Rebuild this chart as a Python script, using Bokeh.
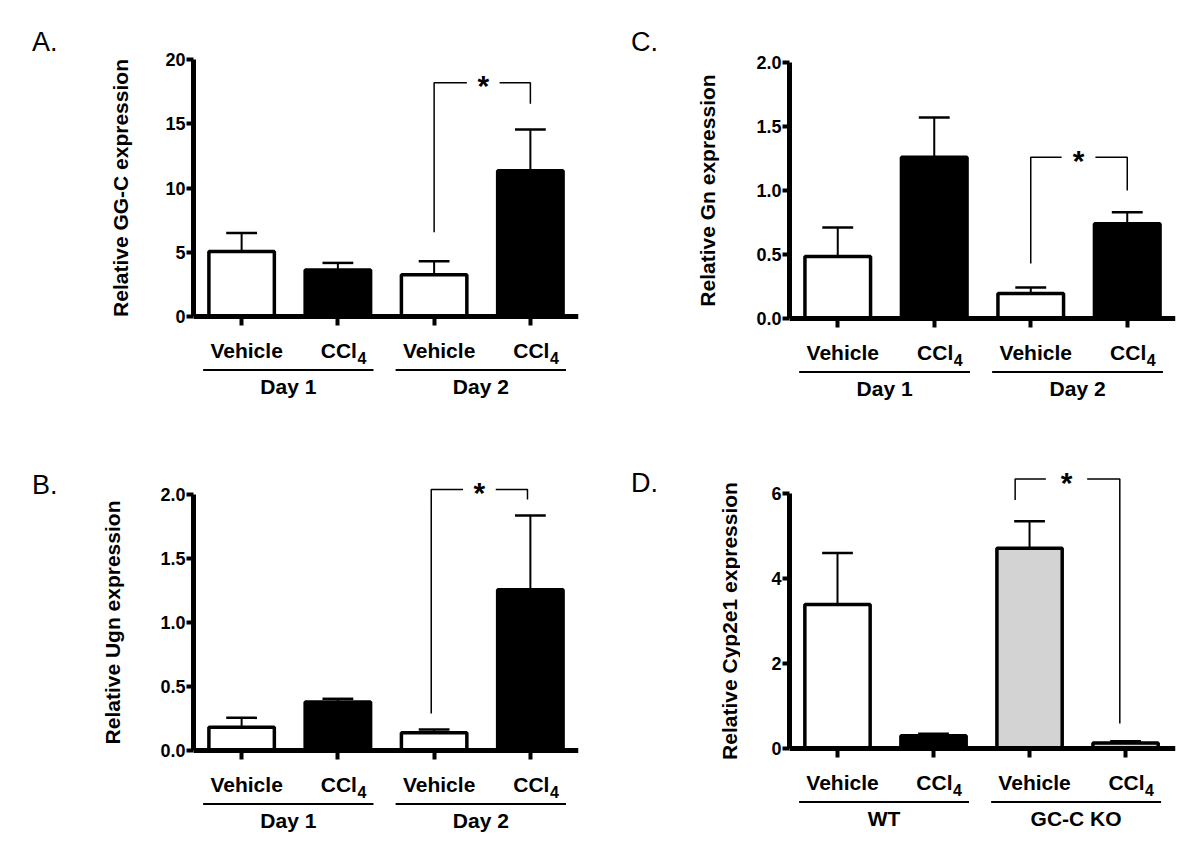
import math
from bokeh.plotting import figure
from bokeh.layouts import column, row
from bokeh.models import LinearAxis, FixedTicker, Range1d, NumeralTickFormatter
from bokeh.embed import file_html
from bokeh.resources import INLINE
from bokeh.core.properties import value

FONT = "Liberation Sans"

# ---------------- data ----------------
positions = [1, 2, 3, 4]
treat_main = ["Vehicle", "CCl", "Vehicle", "CCl"]
treat_sub = ["", "4", "", "4"]

gcc_mean = [5.05, 3.62, 3.24, 11.35]
gcc_upper = [6.50, 4.17, 4.30, 14.55]

gn_mean = [0.485, 1.26, 0.195, 0.74]
gn_upper = [0.71, 1.57, 0.242, 0.83]

ugn_mean = [0.182, 0.378, 0.138, 1.255]
ugn_upper = [0.255, 0.404, 0.164, 1.836]

cyp_mean = [3.39, 0.30, 4.71, 0.13]
cyp_upper = [4.60, 0.35, 5.35, 0.17]

day_groups = ["Day 1", "Day 2"]
genotype_groups = ["WT", "GC-C KO"]

fills_day = ["white", "black", "white", "black"]
fills_geno = ["white", "black", "#d3d3d3", "#d3d3d3"]

ticks_gcc = [0, 5, 10, 15, 20]
ticks_frac = [0, 0.5, 1.0, 1.5, 2.0]
ticks_cyp = [0, 2, 4, 6]

# significance brackets: legs x, [left foot, top, right foot], gap around star
sig_gcc = dict(x=[3.0, 4.0], y=[6.55, 18.2, 16.55], gap=[3.34, 3.68])
sig_gn = dict(x=[3.0, 4.0], y=[0.43, 1.26, 1.0], gap=[3.32, 3.67])
sig_ugn = dict(x=[2.97, 3.97], y=[0.29, 2.04, 1.96], gap=[3.30, 3.64])
sig_cyp = dict(x=[2.85, 3.94], y=[5.85, 6.34, 0.59], gap=[3.17, 3.60])

TOP = 20  # common top border of every figure in a row (frames are aligned by the layout)


def blank(fig):
    fig.grid.visible = False
    fig.outline_line_color = None
    fig.background_fill_color = "white"
    fig.border_fill_color = "white"


def side_panel(letter, ylabel, lay):
    """Narrow figure holding the panel letter and the rotated y-axis title."""
    W, H = lay["side_size"]
    s = figure(width=W, height=H, x_range=Range1d(0, W), y_range=Range1d(0, H - TOP),
               min_border_left=0, min_border_right=0, min_border_top=TOP,
               min_border_bottom=0, output_backend="svg", toolbar_location=None,
               x_axis_location=None, y_axis_location=None)
    blank(s)
    lx, lc = lay["letter"]
    s.text(x=[lx], y=[H - lc], text=[letter], text_align="left", text_baseline="middle",
           text_font=value(FONT), text_font_size="27px", text_color="black")
    cx, cy = lay["ylab"]
    s.text(x=[cx], y=[H - cy], text=[ylabel], angle=math.pi / 2, text_align="center",
           text_baseline="middle", text_font=value(FONT), text_font_style="bold",
           text_font_size="21px", text_color="black")
    return s


def make_panel(mean, upper, fills, groups, yticks, yfmt, sig, lay):
    W, H = lay["size"]
    fl, fr = lay["frame_x"]
    ft, fb = TOP, H
    ytop, ytop_px, zero_px = lay["yscale"]
    x_end = lay["x_end"]
    ppu = (zero_px - ytop_px) / ytop
    y_end = (zero_px - ft) / ppu
    y_start = -(fb - zero_px) / ppu
    ppx = (fr - fl) / (x_end - 0.5)

    def dy(px):
        return px / ppu

    def dx(px):
        return px / ppx

    p = figure(width=W, height=H, x_range=Range1d(0.5, x_end), y_range=Range1d(y_start, y_end),
               min_border_left=fl, min_border_right=W - fr, min_border_top=ft,
               min_border_bottom=H - fb, output_backend="svg", toolbar_location=None,
               x_axis_location=None, y_axis_location=None)
    blank(p)

    yax = LinearAxis(bounds=(0, ytop), ticker=FixedTicker(ticks=yticks),
                     formatter=NumeralTickFormatter(format=yfmt))
    yax.axis_line_width = 5
    yax.axis_line_color = "black"
    yax.major_tick_line_width = 4
    yax.major_tick_line_color = "black"
    yax.major_tick_out = 7
    yax.major_tick_in = 0
    yax.minor_tick_line_color = None
    yax.major_label_text_font = FONT
    yax.major_label_text_font_style = "bold"
    yax.major_label_text_font_size = "18px"
    yax.major_label_text_color = "black"
    yax.major_label_standoff = 1
    p.add_layout(yax, "left")

    xax = LinearAxis(fixed_location=0, ticker=FixedTicker(ticks=positions),
                     major_label_overrides={1: "", 2: "", 3: "", 4: ""})
    xax.axis_line_width = 5
    xax.axis_line_color = "black"
    xax.major_tick_line_width = 4
    xax.major_tick_line_color = "black"
    xax.major_tick_in = 9
    xax.major_tick_out = 0
    xax.minor_tick_line_color = None
    xax.major_label_text_font_size = "0px"
    xax.major_label_standoff = 0
    p.add_layout(xax, "above")

    # bars
    p.vbar(x=positions, top=mean, bottom=0, width=0.68, fill_color=fills,
           line_color="black", line_width=3.5)
    # upper error bars
    p.segment(x0=positions, y0=mean, x1=positions, y1=upper, line_color="black", line_width=2)
    p.segment(x0=[x - 0.16 for x in positions], y0=upper,
              x1=[x + 0.16 for x in positions], y1=upper, line_color="black", line_width=2.5)

    # significance bracket
    lx, rx = sig["x"]
    lb, top, rb = sig["y"]
    g0, g1 = sig["gap"]
    p.multi_line(xs=[[lx, lx, g0], [g1, rx, rx]], ys=[[lb, top, top], [top, top, rb]],
                 line_color="black", line_width=1.5)
    p.text(x=[(g0 + g1) / 2], y=[top - dy(3)], text=["*"], text_align="center",
           text_baseline="middle", text_font=value(FONT), text_font_style="bold",
           text_font_size="30px", text_color="black")

    # treatment labels
    shift = 5
    for xi, main, sub in zip(positions, treat_main, treat_sub):
        if sub:
            anchor = xi + dx(shift + 14)
            p.text(x=[anchor], y=[-dy(33.5)], text=[main], text_align="right",
                   text_baseline="middle", text_font=value(FONT), text_font_style="bold",
                   text_font_size="21px", text_color="black")
            p.text(x=[anchor + dx(0.5)], y=[-dy(41)], text=[sub], text_align="left",
                   text_baseline="middle", text_font=value(FONT), text_font_style="bold",
                   text_font_size="16px", text_color="black")
        else:
            p.text(x=[xi + dx(shift)], y=[-dy(33.5)], text=[main], text_align="center",
                   text_baseline="middle", text_font=value(FONT), text_font_style="bold",
                   text_font_size="21px", text_color="black")

    # group lines and labels
    g_start = [positions[0] - 0.4, positions[2] - 0.4]
    g_end = [positions[1] + 0.37, positions[3] + 0.37]
    p.segment(x0=g_start, y0=[-dy(53.5)] * 2, x1=g_end, y1=[-dy(53.5)] * 2,
              line_color="black", line_width=2.2)
    p.text(x=[(a + b) / 2 for a, b in zip(g_start, g_end)], y=[-dy(70)] * 2, text=groups,
           text_align="center", text_baseline="middle", text_font=value(FONT),
           text_font_style="bold", text_font_size="21px", text_color="black")
    return p


lay_a = dict(side_size=(140, 430), letter=(31.5, 41.3), ylab=(120, 187.5),
             size=(460, 430), frame_x=(53, 438), yscale=(20, 59, 316), x_end=4.5)
lay_c = dict(side_size=(140, 430), letter=(30.5, 41.3), ylab=(106.7, 190),
             size=(460, 430), frame_x=(49, 435), yscale=(2.0, 62, 318), x_end=4.5)
lay_b = dict(side_size=(140, 424), letter=(31.5, 54), ylab=(112.3, 192),
             size=(460, 424), frame_x=(53, 438), yscale=(2.0, 64, 320), x_end=4.5)
lay_d = dict(side_size=(140, 424), letter=(30.5, 52.5), ylab=(128.6, 190.5),
             size=(460, 424), frame_x=(49, 435), yscale=(6, 63, 318), x_end=4.52)

sA = side_panel("A.", "Relative GG-C expression", lay_a)
pA = make_panel(gcc_mean, gcc_upper, fills_day, day_groups, ticks_gcc, "0", sig_gcc, lay_a)
sC = side_panel("C.", "Relative Gn expression", lay_c)
pC = make_panel(gn_mean, gn_upper, fills_day, day_groups, ticks_frac, "0.0", sig_gn, lay_c)
sB = side_panel("B.", "Relative Ugn expression", lay_b)
pB = make_panel(ugn_mean, ugn_upper, fills_day, day_groups, ticks_frac, "0.0", sig_ugn, lay_b)
sD = side_panel("D.", "Relative Cyp2e1 expression", lay_d)
pD = make_panel(cyp_mean, cyp_upper, fills_geno, genotype_groups, ticks_cyp, "0", sig_cyp, lay_d)

layout = column(row(sA, pA, sC, pC), row(sB, pB, sD, pD))
open("out.html", "w").write(file_html(layout, INLINE))
